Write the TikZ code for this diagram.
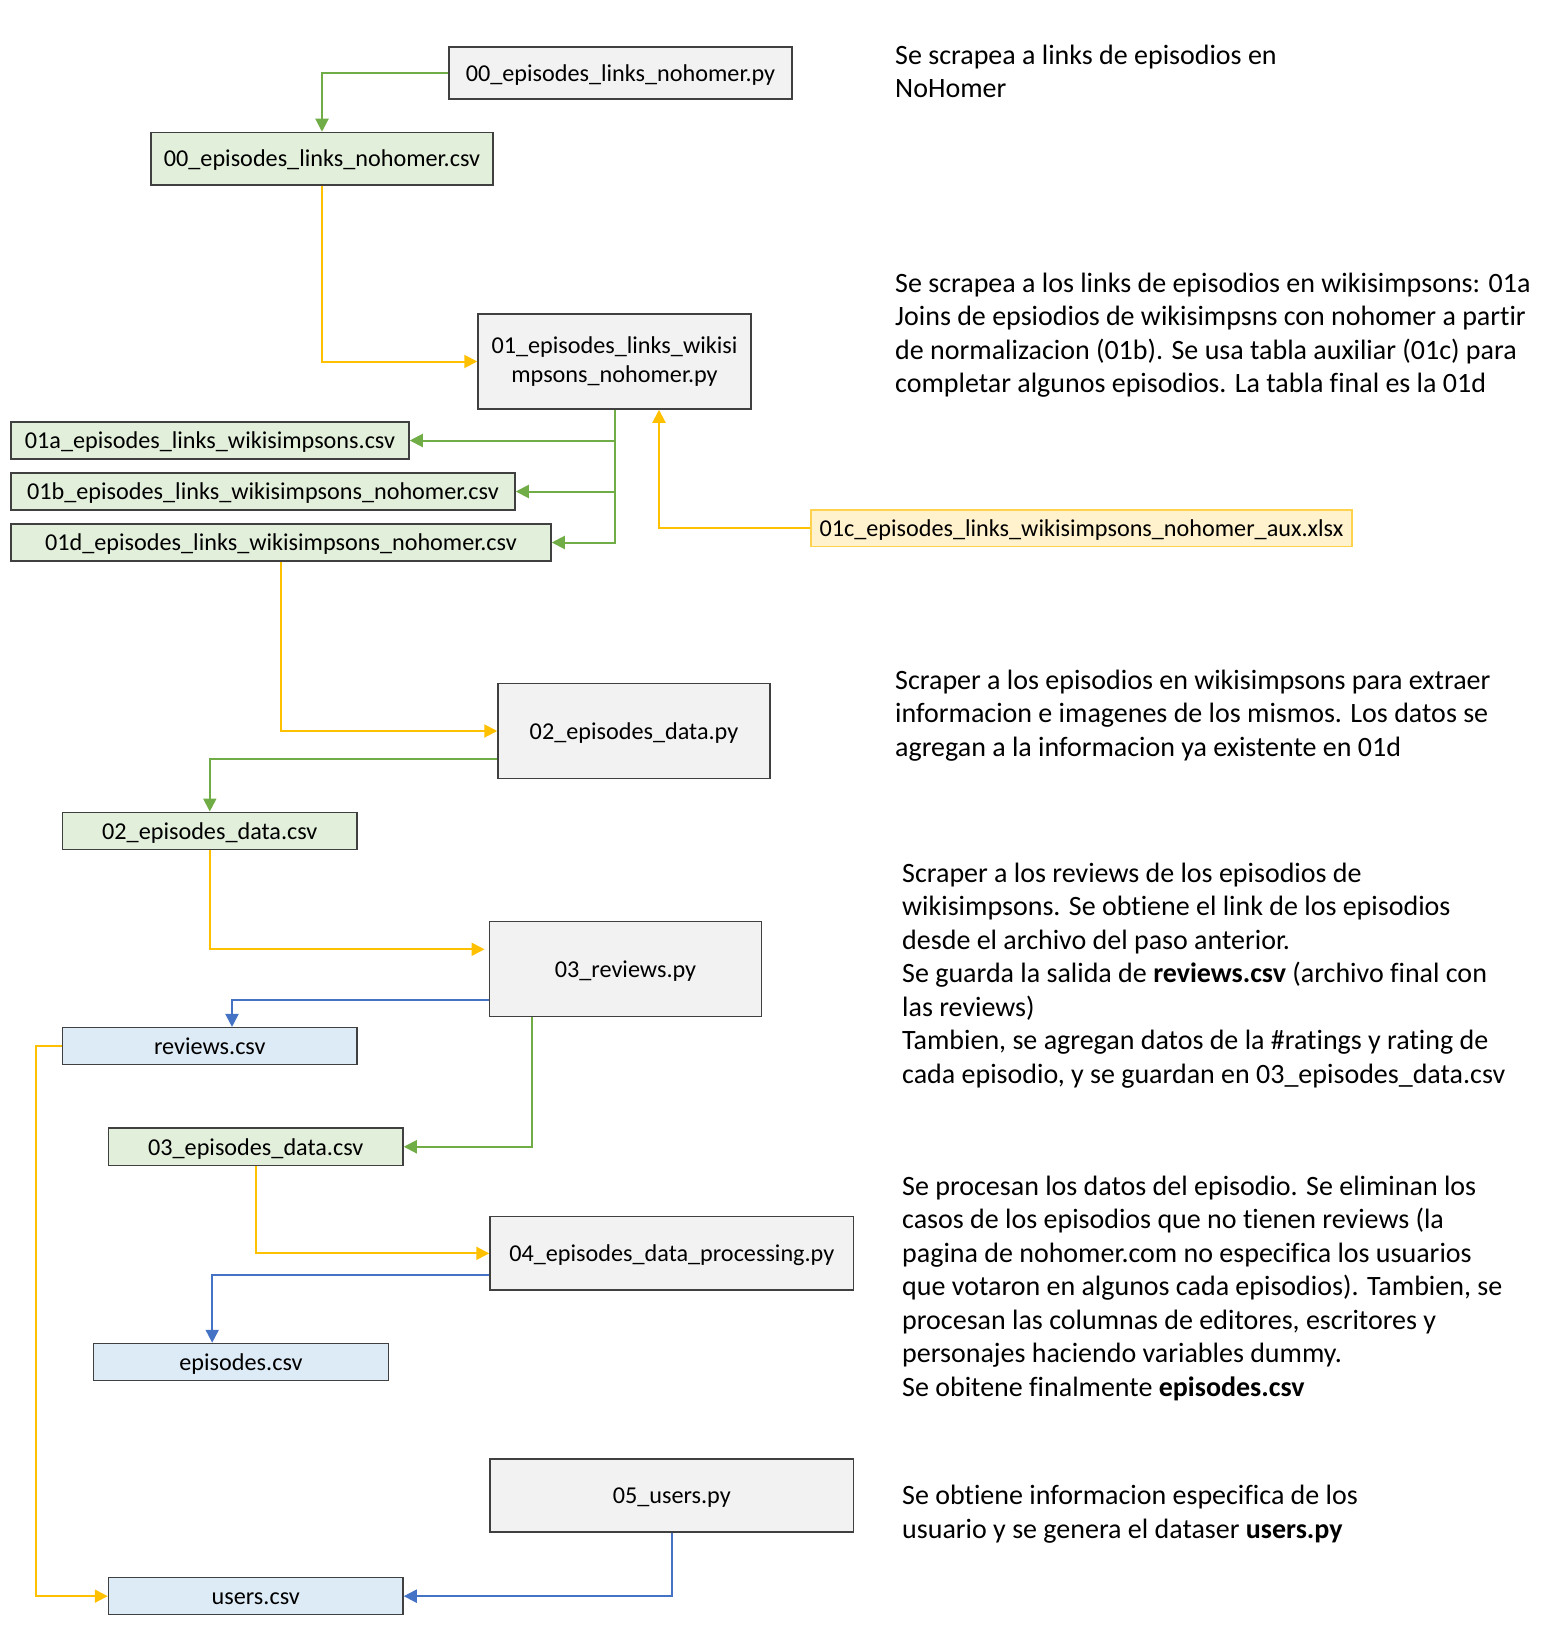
\documentclass[tikz,border=0pt]{standalone}
\usepackage{fontspec}
\setmainfont{Carlito}[Ligatures={NoCommon}]
\usetikzlibrary{arrows.meta}
\definecolor{grn}{HTML}{70AD47}
\definecolor{grnfill}{HTML}{E2EFDA}
\definecolor{yel}{HTML}{FFC000}
\definecolor{yelfill}{HTML}{FFF2CC}
\definecolor{yelbord}{HTML}{FFD24D}
\definecolor{blu}{HTML}{4472C4}
\definecolor{blufill}{HTML}{DDEBF7}
\definecolor{gryfill}{HTML}{F2F2F2}
\definecolor{bord}{HTML}{404040}
\begin{document}
\begin{tikzpicture}[x=1pt,y=-1pt,
  box/.style={draw=bord, line width=1.5pt, rectangle, inner sep=0pt, align=center,
              font=\fontsize{24.2}{29}\selectfont, text height=23pt, text depth=6.5pt},
  pybox/.style={box, fill=gryfill},
  csvbox/.style={box, fill=grnfill},
  outbox/.style={box, fill=blufill},
  auxbox/.style={box, fill=yelfill, draw=yelbord},
  conn/.style={line width=2pt, -{Triangle[length=13pt,width=13pt]}},
  gconn/.style={conn, draw=grn},
  yconn/.style={conn, draw=yel},
  bconn/.style={conn, draw=blu},
  desc/.style={anchor=base west, inner sep=0pt, font=\fontsize{28}{33.5}\selectfont}
]
\useasboundingbox (0,0) rectangle (1556,1632);

% boxes
\node[pybox, minimum width=343pt, minimum height=52pt] (py00) at (620.5,73) {00\_episodes\_links\_nohomer.py};
\node[csvbox, minimum width=342pt, minimum height=52.5pt] (c00) at (322,158.75) {00\_episodes\_links\_nohomer.csv};
\node[pybox, minimum width=273pt, minimum height=95pt, text height={}, text depth={}] (py01) at (614.5,361.5) {01\_episodes\_links\_wikisi\\mpsons\_nohomer.py};
\node[csvbox, minimum width=398pt, minimum height=37pt] (c01a) at (210,440.5) {01a\_episodes\_links\_wikisimpsons.csv};
\node[csvbox, minimum width=504pt, minimum height=37pt] (c01b) at (263,491.5) {01b\_episodes\_links\_wikisimpsons\_nohomer.csv};
\node[csvbox, minimum width=540pt, minimum height=37pt] (c01d) at (281,542.5) {01d\_episodes\_links\_wikisimpsons\_nohomer.csv};
\node[auxbox, minimum width=541pt, minimum height=36.5pt] (x01c) at (1081.5,528) {01c\_episodes\_links\_wikisimpsons\_nohomer\_aux.xlsx};
\node[pybox, minimum width=272pt, minimum height=95.4pt] (py02) at (634,731) {02\_episodes\_data.py};
\node[csvbox, minimum width=294.4pt, minimum height=37pt] (c02) at (209.8,830.8) {02\_episodes\_data.csv};
\node[pybox, minimum width=272.4pt, minimum height=95pt] (py03) at (625.5,968.8) {03\_reviews.py};
\node[outbox, minimum width=294.4pt, minimum height=37pt] (rev) at (209.8,1046.2) {reviews.csv};
\node[csvbox, minimum width=294.5pt, minimum height=37.5pt] (c03) at (255.75,1146.75) {03\_episodes\_data.csv};
\node[pybox, minimum width=363.6pt, minimum height=73.3pt] (py04) at (671.8,1253.35) {04\_episodes\_data\_processing.py};
\node[outbox, minimum width=295pt, minimum height=36.8pt] (epi) at (241,1361.9) {episodes.csv};
\node[pybox, minimum width=363.6pt, minimum height=73pt] (py05) at (671.8,1495.5) {05\_users.py};
\node[outbox, minimum width=294.5pt, minimum height=37pt] (usr) at (255.75,1596.15) {users.csv};

% connectors
\draw[gconn] (py00.west) -| (c00.north);
\draw[yconn] (c00.south) |- (py01.west);
\draw[gconn] (py01.south) |- (c01a.east);
\draw[gconn] (py01.south) |- (c01b.east);
\draw[gconn] (py01.south) |- (c01d.east);
\draw[yconn] (x01c.west) -| ([xshift=44.5pt]py01.south);
\draw[yconn] (c01d.south) |- (py02.west);
\draw[gconn] ([yshift=-27.7pt]py02.west) -| (c02.north);
\draw[yconn, shorten >=4pt] (c02.south) |- ([yshift=19.5pt]py03.west);
\draw[bconn] ([yshift=-30.7pt]py03.west) -| ([xshift=22.2pt]rev.north);
\draw[gconn] ([xshift=-93.8pt]py03.south) |- (c03.east);
\draw[yconn] (rev.west) -- ++(-25.4,0) |- (usr.west);
\draw[yconn] (c03.south) |- (py04.west);
\draw[bconn] ([yshift=-21.2pt]py04.west) -| ([xshift=-28.8pt]epi.north);
\draw[bconn] (py05.south) |- (usr.east);

% descriptions
\node[desc] (d1a) at (895,65) {Se scrapea a links de episodios en};
\node[desc] (d1b) at (895,98) {NoHomer};

\node[desc] (d2a) at (895,292) {Se scrapea a los links de episodios en wikisimpsons: 01a};
\node[desc] (d2b) at (895,325.5) {Joins de epsiodios de wikisimpsns con nohomer a partir};
\node[desc] (d2c) at (895,359) {de normalizacion (01b). Se usa tabla auxiliar (01c) para};
\node[desc] (d2d) at (895,392.5) {completar algunos episodios. La tabla final es la 01d};

\node[desc] (d3a) at (895,689) {Scraper a los episodios en wikisimpsons para extraer};
\node[desc] (d3b) at (895,722.5) {informacion e imagenes de los mismos. Los datos se};
\node[desc] (d3c) at (895,756) {agregan a la informacion ya existente en 01d};

\node[desc] (d4a) at (902,882) {Scraper a los reviews de los episodios de};
\node[desc] (d4b) at (902,915.5) {wikisimpsons. Se obtiene el link de los episodios};
\node[desc] (d4c) at (902,949) {desde el archivo del paso anterior.};
\node[desc] (d4d) at (902,982.5) {Se guarda la salida de \textbf{reviews.csv} (archivo final con};
\node[desc] (d4e) at (902,1016) {las reviews)};
\node[desc] (d4f) at (902,1049.5) {Tambien, se agregan datos de la \#ratings y rating de};
\node[desc] (d4g) at (902,1083) {cada episodio, y se guardan en 03\_episodes\_data.csv};

\node[desc] (d5a) at (902,1195) {Se procesan los datos del episodio. Se eliminan los};
\node[desc] (d5b) at (902,1228.5) {casos de los episodios que no tienen reviews (la};
\node[desc] (d5c) at (902,1262) {pagina de nohomer.com no especifica los usuarios};
\node[desc] (d5d) at (902,1295.5) {que votaron en algunos cada episodios). Tambien, se};
\node[desc] (d5e) at (902,1329) {procesan las columnas de editores, escritores y};
\node[desc] (d5f) at (902,1362.5) {personajes haciendo variables dummy.};
\node[desc] (d5g) at (902,1396) {Se obitene finalmente \textbf{episodes.csv}};

\node[desc] (d6a) at (902,1504) {Se obtiene informacion especifica de los};
\node[desc] (d6b) at (902,1538) {usuario y se genera el dataser \textbf{users.py}};
\end{tikzpicture}
\end{document}
